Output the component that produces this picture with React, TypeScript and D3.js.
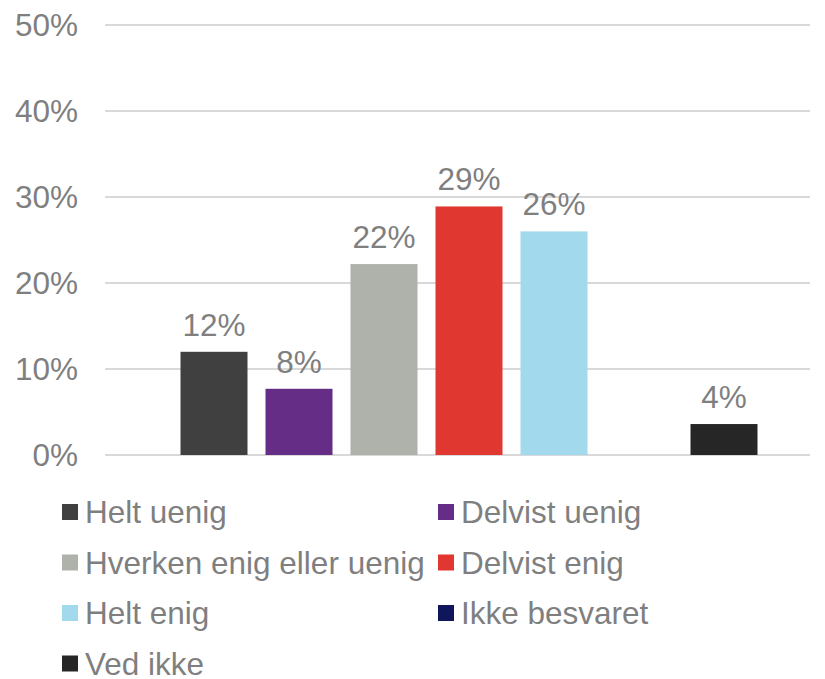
import React from "react";
import * as d3 from "d3";

const categories = ["Helt uenig", "Delvist uenig", "Hverken enig eller uenig", "Delvist enig", "Helt enig", "Ikke besvaret", "Ved ikke"];
const values = [12.0, 7.7, 22.2, 28.9, 26.0, 0, 3.6];
const labels = ["12%", "8%", "22%", "29%", "26%", "", "4%"];
const colors = ["#404040", "#652d85", "#afb2ab", "#e03731", "#a3d9ec", "#0f1659", "#262626"];
const yTicks = [0, 10, 20, 30, 40, 50];

const W = 825, H = 679;
const FONT = "'Liberation Sans', Arial, sans-serif";
const TEXT = "#7f7f7f";

export default function App() {
  const y = d3.scaleLinear().domain([0, 50]).range([455, 25]);
  const x = d3.scaleBand<string>().domain(categories).range([171.5, 766.5]).paddingInner(18 / 85).paddingOuter(9 / 85);
  const legendCols = [62, 438];
  const legendRow0 = 512, legendRowStep = 50.5;
  return (
    <svg width={W} height={H} style={{ position: "absolute", left: 0, top: 0, background: "#fff" }} fontFamily={FONT}>
      {yTicks.map((t) => (
        <g key={t}>
          <line x1={105} x2={810} y1={y(t)} y2={y(t)} stroke="#d9d9d9" strokeWidth={2} />
          <text x={78} y={y(t)} dy="0.35em" textAnchor="end" fontSize={31.5} fill={TEXT}>{t}%</text>
        </g>
      ))}
      {categories.map((c, i) => (
        <g key={c}>
          {values[i] > 0 && (
            <rect x={x(c)} y={y(values[i])} width={x.bandwidth()} height={y(0) - y(values[i])} fill={colors[i]} />
          )}
          {labels[i] && (
            <text x={(x(c) as number) + x.bandwidth() / 2} y={y(values[i]) - 16} textAnchor="middle" fontSize={31.5} fill={TEXT}>{labels[i]}</text>
          )}
        </g>
      ))}
      {categories.map((c, i) => {
        const col = i % 2, row = Math.floor(i / 2);
        const lx = legendCols[col], ly = legendRow0 + row * legendRowStep;
        return (
          <g key={"lg" + c}>
            <rect x={lx} y={ly - 8} width={16} height={16} fill={colors[i]} />
            <text x={lx + 23} y={ly} dy="0.35em" fontSize={31.5} fill={TEXT}>{c}</text>
          </g>
        );
      })}
    </svg>
  );
}
